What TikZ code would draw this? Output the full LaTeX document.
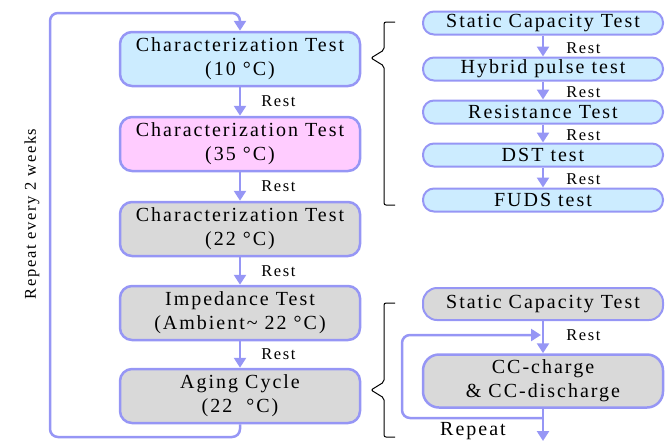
\documentclass[tikz,border=0pt]{standalone}
\usepackage{fontspec}
\setmainfont{Liberation Serif}[LetterSpace=10]
\usetikzlibrary{arrows.meta, positioning}
\definecolor{flowblue}{RGB}{150,150,245}
\definecolor{skyfill}{RGB}{204,236,255}
\definecolor{pinkfill}{RGB}{255,204,255}
\definecolor{greyfill}{RGB}{217,217,217}
\tikzset{
  % Main column block (parameterized by fill)
  testblock/.style={
    rectangle, rounded corners=12pt, minimum width=240pt, minimum height=54pt,
    align=center, font=\fontsize{20}{24}\selectfont, draw=flowblue, fill=#1,
    line width=2.5pt, inner sep=0pt
  },
  % Sub-test block on the right (parameterized by fill)
  subblock/.style={
    rectangle, rounded corners=11pt, minimum width=240pt, minimum height=23pt,
    align=center, font=\fontsize{20}{24}\selectfont, draw=flowblue, fill=#1,
    line width=2pt, inner sep=0pt
  },
  flowarrow/.style={-{Triangle[width=12pt,length=10pt]}, line width=2.5pt, flowblue},
  restlabel/.style={font=\fontsize{16.5}{18}\selectfont, text=black, anchor=west, inner sep=0pt},
  bracket/.style={line width=1pt, black, rounded corners=2pt}
}
\begin{document}
\begin{tikzpicture}[x=1pt, y=-1pt]
  \useasboundingbox (0,0) rectangle (666,440);

  % Main column
  \node[testblock=skyfill] (char10) at (240,59) {Characterization Test\\(10 °C)};
  \node[testblock=pinkfill] (char35) at (240,144) {Characterization Test\\(35 °C)};
  \node[testblock=greyfill] (char22) at (240,229) {Characterization Test\\(22 °C)};
  \node[testblock=greyfill] (imped) at (240,313) {Impedance Test\\(Ambient{\char"7E} 22 °C)};
  \node[testblock=greyfill] (aging) at (240,396) {Aging Cycle\\(22 \ °C)};

  \draw[flowarrow] (char10) -- (char35) node[midway, restlabel, xshift=20pt] {Rest};
  \draw[flowarrow] (char35) -- (char22) node[midway, restlabel, xshift=20pt] {Rest};
  \draw[flowarrow] (char22) -- (imped) node[midway, restlabel, xshift=20pt] {Rest};
  \draw[flowarrow] (imped) -- (aging) node[midway, restlabel, xshift=20pt] {Rest};

  % Two-week loop
  \coordinate (loopbl) at (50,437);
  \coordinate (looptl) at (50,13);
  \draw[flowarrow, rounded corners=8pt] (aging.south) |- (loopbl) -- (looptl) -| (char10.north);
  \node[rotate=90, font=\fontsize{16.5}{18}\selectfont] (every) at (32,214) {Repeat every 2 weeks};

  % Characterization sub-tests
  \node[subblock=skyfill] (static1) at (543,23) {Static Capacity Test};
  \node[subblock=skyfill] (hybrid) at (543,69) {Hybrid pulse test};
  \node[subblock=skyfill] (resist) at (543,112) {Resistance Test};
  \node[subblock=skyfill] (dst) at (543,155) {DST test};
  \node[subblock=skyfill] (fuds) at (543,200) {FUDS test};

  \draw[flowarrow] (static1) -- (hybrid) node[midway, restlabel, xshift=22pt, yshift=-2pt] {Rest};
  \draw[flowarrow] (hybrid) -- (resist) node[midway, restlabel, xshift=22pt, yshift=-2pt] {Rest};
  \draw[flowarrow] (resist) -- (dst) node[midway, restlabel, xshift=22pt, yshift=-2pt] {Rest};
  \draw[flowarrow] (dst) -- (fuds) node[midway, restlabel, xshift=22pt, yshift=-2pt] {Rest};

  \draw[bracket] (395,22) -- (384,22) -- (384,50) -- (371,58) -- (384,66) -- (384,205) -- (395,205);

  % Aging sub-steps
  \node[subblock=greyfill, minimum height=32pt, rounded corners=14pt] (static2) at (543,304) {Static Capacity Test};
  \node[testblock=greyfill, minimum height=53pt, rounded corners=16pt] (cccycle) at (543,381) {CC-charge\\\& CC-discharge};

  \draw[flowarrow] (static2) -- (cccycle) node[midway, restlabel, xshift=22pt, yshift=2pt] {Rest};

  \coordinate (cycleout) at (543,441);
  \coordinate (cyclebot) at (543,418);
  \coordinate (cycleleft) at (402,335);
  \coordinate (cyclein) at (541,335);
  \draw[flowarrow] (cccycle) -- (cycleout);
  \draw[flowarrow, rounded corners=8pt] (cyclebot) -| (cycleleft) -- (cyclein);
  \node[font=\fontsize{20}{24}\selectfont, inner sep=0pt] (repeat) at (473,431) {Repeat};

  \draw[bracket] (395,303) -- (384,303) -- (384,382) -- (371,390) -- (384,398) -- (384,437) -- (395,437);
\end{tikzpicture}
\end{document}
